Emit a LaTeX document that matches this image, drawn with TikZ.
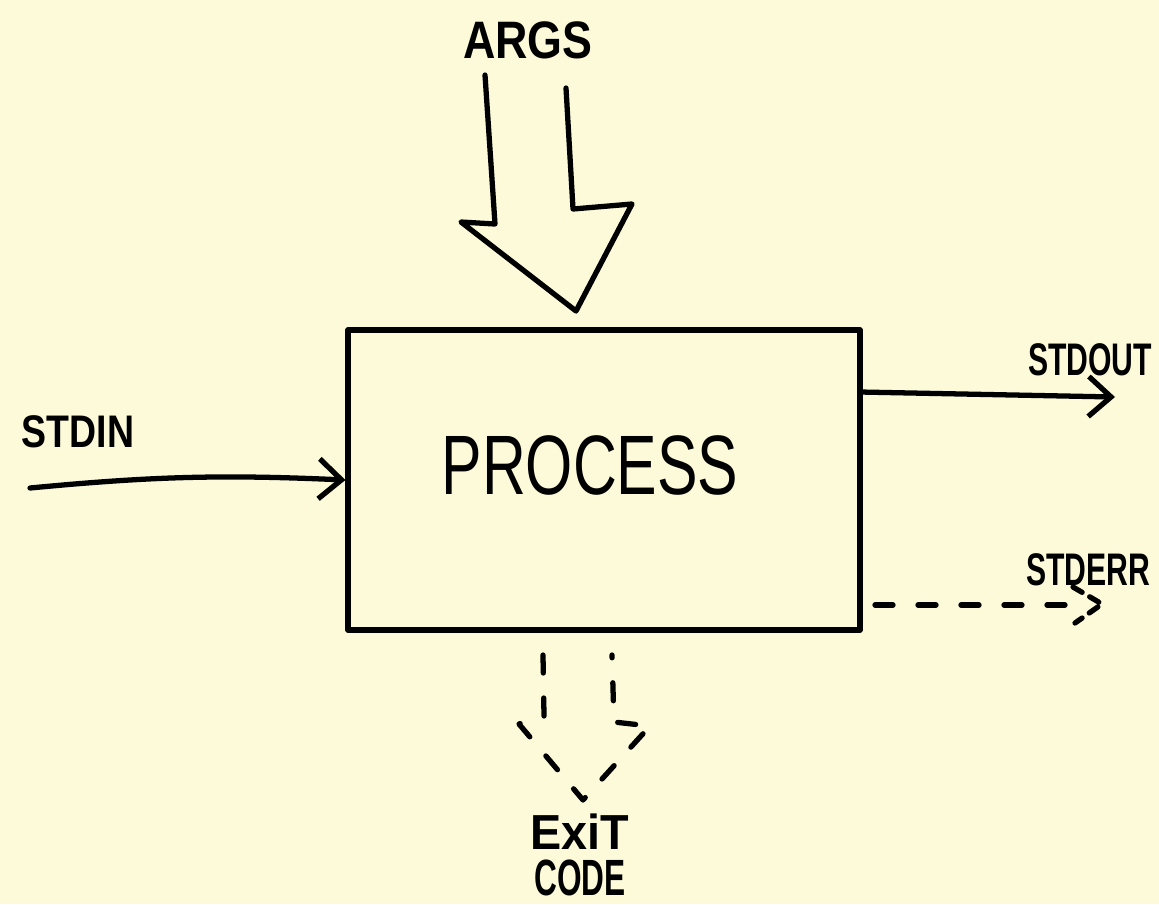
\documentclass[tikz,border=0pt]{standalone}
\usepackage{fontspec}
\setmainfont{Liberation Sans}
\usetikzlibrary{arrows.meta,positioning}
\definecolor{paper}{HTML}{FCFAD9}

\begin{document}
\begin{tikzpicture}[x=0.02cm,y=-0.02cm,line width=3pt,line cap=round,line join=round,node distance=0.92cm,on grid]
		\tikzstyle{lbl}=[inner sep=0pt,font=\bfseries\fontsize{26}{26}\selectfont]
		\tikzstyle{box}=[draw,rectangle,inner sep=0pt,minimum width=10.24cm,minimum height=6cm]
		\tikzstyle{flow}=[-{Straight Barb[length=0.45cm,width=0.8cm]}]
		\tikzstyle{dashline}=[dash pattern=on 0.36cm off 0.5cm]
		\fill[paper] (0,0) rectangle (1159,904);
		\useasboundingbox (0,0) rectangle (1159,904);
		\node[box] (p) at (604,480) {};
		\node[inner sep=0pt,font=\fontsize{48}{48}\selectfont,xscale=0.72] (pt) at (590,465) {PROCESS};
		\node[lbl,font=\bfseries\fontsize{30}{30}\selectfont,xscale=0.85] (args) at (528,40) {ARGS};
		\node[lbl,xscale=0.82] (in) at (78,432) {STDIN};
		\node[lbl,xscale=0.66] (out) at (1090,360) {STDOUT};
		\node[lbl,xscale=0.66] (err) at (1088,570) {STDERR};
		\node[lbl,font=\bfseries\fontsize{28}{28}\selectfont,xscale=0.95] (exit) at (580,832) {ExiT};
		\node[lbl,font=\bfseries\fontsize{29}{29}\selectfont,xscale=0.62] (code) [below = of exit] {CODE};
		\coordinate (i0) at (30,488);
		\coordinate (o0) at (860,392);
		\coordinate (o1) at (1115,397);
		\coordinate (e0) at (875,605);
		\coordinate (e1) at (1085,605);
		% args
		\draw (485,75) -- (495,224) -- (461,222) -- (576,311) -- (632,204) -- (573,209) -- (566,88);
		% streams
		\draw[flow] (i0) to[bend left=4] (p.west);
		\draw[flow] (o0) -- (o1);
		\draw[dashline] (e0) -- (e1);
		\draw[dash pattern=on 6pt off 5pt] (1073,587) -- (1102,604) -- (1075,623);
		% exit code
		\draw[dashline] (543,655) -- (544,716) -- (519,724) -- (583,800) -- (650,726) -- (614,722) -- (612,655);
	\end{tikzpicture}
\end{document}
